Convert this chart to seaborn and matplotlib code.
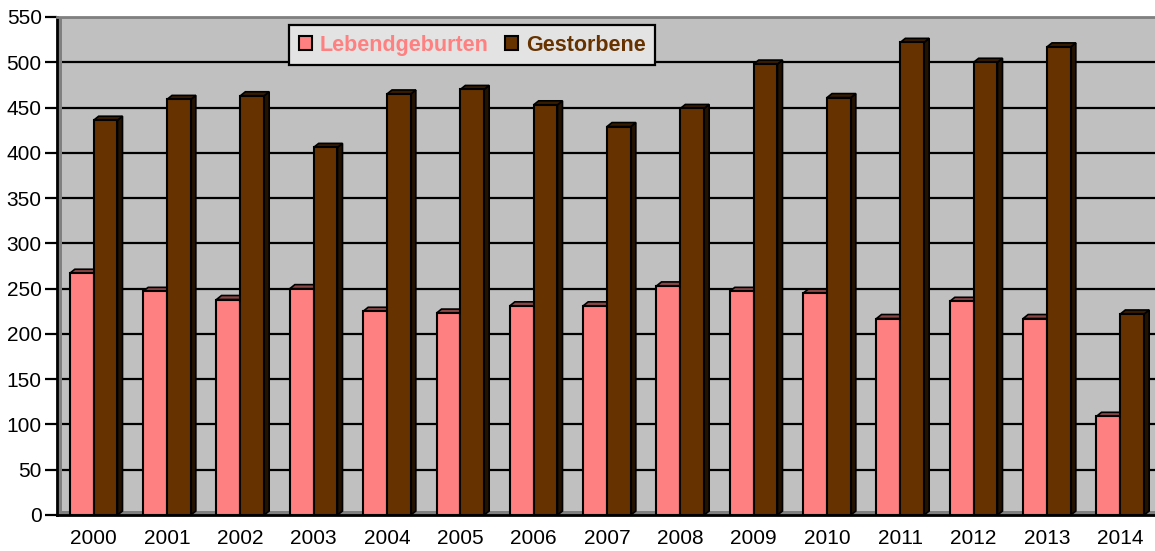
import pandas as pd
import numpy as np
import matplotlib.pyplot as plt
import seaborn as sns
from matplotlib.patches import Polygon, Rectangle
from matplotlib.colors import to_rgb

# ==========================================================
# DATA
# ==========================================================

years = ["2000", "2001", "2002", "2003", "2004", "2005", "2006", "2007",
         "2008", "2009", "2010", "2011", "2012", "2013", "2014"]

lebendgeburten = [267, 247, 238, 250, 225, 223, 231, 231,
                  253, 247, 245, 217, 236, 217, 109]

gestorbene = [436, 459, 463, 406, 465, 470, 453, 429,
              449, 498, 461, 522, 500, 517, 222]

series_names = ["Lebendgeburten", "Gestorbene"]
series_colors = ["#FF8080", "#663300"]

df = pd.DataFrame({
    "Jahr": years * 2,
    "Wert": lebendgeburten + gestorbene,
    "Reihe": [series_names[0]] * len(years) + [series_names[1]] * len(years),
})

# ==========================================================
# FIGURE
# ==========================================================

sns.set_style("white")
plt.rcParams["font.family"] = ["Liberation Sans", "DejaVu Sans"]
plt.rcParams["text.color"] = "black"
plt.rcParams["xtick.color"] = "black"
plt.rcParams["ytick.color"] = "black"

fig = plt.figure(figsize=(11.55, 5.51), dpi=100)
ax = fig.add_axes([57 / 1155, 36 / 551, 1100 / 1155, 498 / 551])
ax.set_facecolor("#C0C0C0")

sns.barplot(
    data=df, x="Jahr", y="Wert", hue="Reihe",
    palette=series_colors, width=0.65,
    edgecolor="black", linewidth=1.5,
    saturation=1, legend=False, ax=ax,
)

ax.set_xlim(-0.5, len(years) - 0.5)
ax.set_ylim(0, 550)

# 3D look: side and top face for every bar
dx = 5 / 73.3
dy = 4 / 0.905
for bar in list(ax.patches):
    x = bar.get_x()
    w = bar.get_width()
    h = bar.get_height()
    base = np.array(to_rgb(bar.get_facecolor()))
    side = Polygon([(x + w, 0), (x + w + dx, dy), (x + w + dx, h + dy), (x + w, h)],
                   closed=True, facecolor=base * 0.35, edgecolor="black",
                   linewidth=1.2, zorder=1.9)
    top = Polygon([(x, h), (x + dx, h + dy), (x + w + dx, h + dy), (x + w, h)],
                  closed=True, facecolor=base * 0.55, edgecolor="black",
                  linewidth=1.2, zorder=1.9)
    ax.add_patch(side)
    ax.add_patch(top)
    bar.set_zorder(2)

# wall and floor
ax.add_patch(Rectangle((0, 0), 5 / 1100, 1, transform=ax.transAxes,
                       facecolor="#808080", edgecolor="none", zorder=0.8))
ax.add_patch(Rectangle((-0.5, 0), len(years), dy, facecolor="#808080",
                       edgecolor="none", zorder=0.8))

# ==========================================================
# AXES STYLE
# ==========================================================

ax.set_yticks(np.arange(0, 551, 50))
ax.yaxis.grid(True, color="black", linewidth=1.6)
ax.set_axisbelow(True)

ax.set_xticks(np.arange(len(years)))
ax.set_xticklabels(years)
ax.set_xticks(np.arange(-0.5, len(years), 1), minor=True)
ax.tick_params(axis="x", which="major", length=0, pad=10, labelsize=15,
               labelcolor="black")
ax.tick_params(axis="x", which="minor", length=9, width=1.6, color="black", direction="out")
ax.tick_params(axis="y", length=9, width=1.6, color="black", direction="out",
               left=True, pad=2, labelsize=15, labelcolor="black")

ax.set_xlabel("")
ax.set_ylabel("")

ax.spines["left"].set_color("black")
ax.spines["left"].set_linewidth(2)
ax.spines["bottom"].set_color("black")
ax.spines["bottom"].set_linewidth(2)
ax.spines["top"].set_color("#808080")
ax.spines["top"].set_linewidth(2)
ax.spines["right"].set_visible(False)

# ==========================================================
# LEGEND
# ==========================================================

handles = [Rectangle((0, 0), 1, 1, facecolor=c, edgecolor="black", linewidth=1.5)
           for c in series_colors]
leg = ax.legend(
    handles, series_names, ncol=2,
    loc="upper left", bbox_to_anchor=((289 - 57) / 1100, (515 - 25) / 498),
    borderaxespad=0, frameon=True, fancybox=False,
    handlelength=0.6, handleheight=0.6, handletextpad=0.35, columnspacing=0.8,
    borderpad=0.45, prop={"size": 15.5, "weight": "bold"},
)
leg.get_frame().set_facecolor("#E3E3E3")
leg.get_frame().set_edgecolor("black")
leg.get_frame().set_linewidth(1.6)
leg.get_frame().set_alpha(1)
for txt, c in zip(leg.get_texts(), series_colors):
    txt.set_color(c)

plt.savefig("out.png", dpi=100)
